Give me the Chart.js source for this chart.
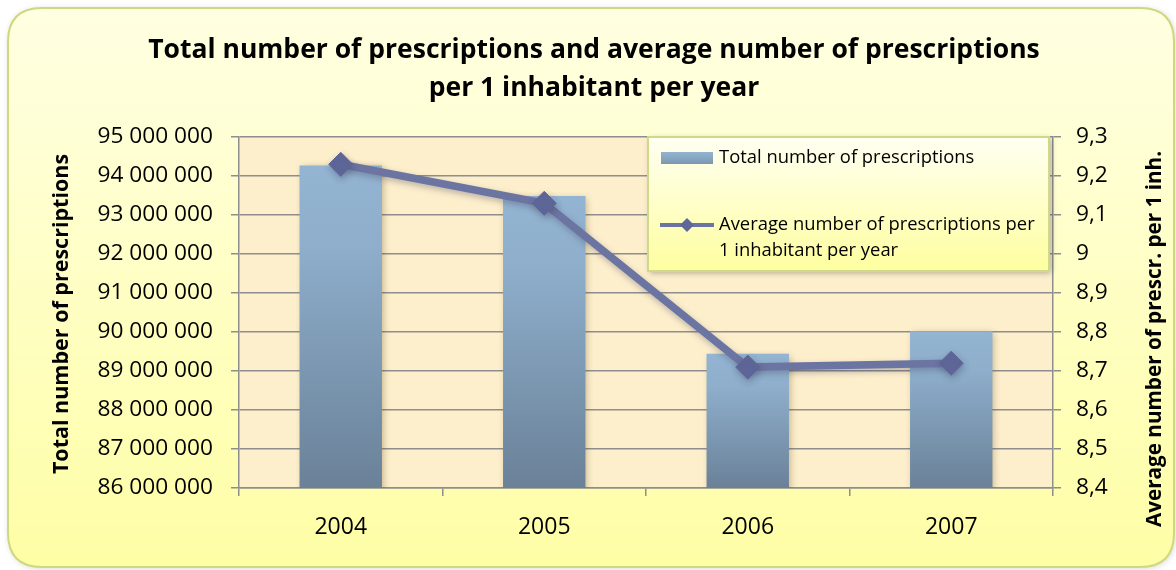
<!DOCTYPE html>
<html>
<head>
<meta charset="utf-8">
<script src="https://cdn.jsdelivr.net/npm/chart.js@4.4.1/dist/chart.umd.min.js"></script>
<style>
  html, body { margin: 0; padding: 0; background: #ffffff; }
  #wrap { position: relative; width: 1176px; height: 570px; }
  canvas { display: block; }
</style>
</head>
<body>
<div id="wrap"><canvas id="c" width="1176" height="570"></canvas></div>
<script>
// ---- Data ----
const years = ['2004', '2005', '2006', '2007'];
const totalPrescriptions = [94270000, 93490000, 89440000, 90020000];
const avgPerInhabitant = [9.23, 9.13, 8.71, 8.72];
const titleLines = ['Total number of prescriptions and average number of prescriptions', 'per 1 inhabitant per year'];
const seriesNames = ['Total number of prescriptions', 'Average number of prescriptions per 1 inhabitant per year'];
const legendLines2 = ['Average number of prescriptions per', '1 inhabitant per year'];
const leftAxisTitle = 'Total number of prescriptions';
const rightAxisTitle = 'Average number of prescr. per 1 inh.';

const FONT = '"Open Sans", "Noto Sans", sans-serif';
const LINE_COLOR = '#6c74a2';
const MARKER_COLOR = '#5f6799';
const GRID = '#8e8e8e';

function roundRect(ctx, x, y, w, h, r) {
  ctx.beginPath();
  ctx.moveTo(x + r, y);
  ctx.lineTo(x + w - r, y);
  ctx.quadraticCurveTo(x + w, y, x + w, y + r);
  ctx.lineTo(x + w, y + h - r);
  ctx.quadraticCurveTo(x + w, y + h, x + w - r, y + h);
  ctx.lineTo(x + r, y + h);
  ctx.quadraticCurveTo(x, y + h, x, y + h - r);
  ctx.lineTo(x, y + r);
  ctx.quadraticCurveTo(x, y, x + r, y);
  ctx.closePath();
}

function barGradient(context) {
  const chart = context.chart;
  if (!chart.chartArea || context.raw === undefined) return '#8cabc8';
  const ys = chart.scales.y;
  const top = ys.getPixelForValue(context.raw);
  const bottom = chart.chartArea.bottom;
  const g = chart.ctx.createLinearGradient(0, top, 0, bottom);
  g.addColorStop(0, '#93b4d2');
  g.addColorStop(0.25, '#8eaecb');
  g.addColorStop(1, '#6a8198');
  return g;
}

const decorPlugin = {
  id: 'decor',
  beforeDraw(chart) {
    const ctx = chart.ctx;
    const ca = chart.chartArea;
    ctx.save();
    ctx.shadowColor = 'rgba(0,0,0,0.18)';
    ctx.shadowBlur = 6;
    ctx.shadowOffsetX = 1;
    ctx.shadowOffsetY = 1;
    const g = ctx.createLinearGradient(0, 8, 0, 568);
    g.addColorStop(0, '#ffffe2');
    g.addColorStop(1, '#fefea6');
    roundRect(ctx, 8, 8, 1166, 559, 34);
    ctx.fillStyle = g;
    ctx.fill();
    ctx.shadowColor = 'transparent';
    ctx.lineWidth = 2;
    ctx.strokeStyle = '#cdd97a';
    ctx.stroke();
    ctx.fillStyle = '#fdefcc';
    ctx.fillRect(ca.left, ca.top, ca.right - ca.left, ca.bottom - ca.top);
    ctx.restore();

    ctx.save();
    ctx.fillStyle = '#000';
    ctx.font = 'bold 26.5px ' + FONT;
    ctx.textAlign = 'center';
    ctx.textBaseline = 'middle';
    ctx.fillText(titleLines[0], 594, 50);
    ctx.fillText(titleLines[1], 594, 88);
    ctx.font = 'bold 21.5px ' + FONT;
    ctx.translate(62, 314);
    ctx.rotate(-Math.PI / 2);
    ctx.fillText(leftAxisTitle, 0, 0);
    ctx.restore();
    ctx.save();
    ctx.fillStyle = '#000';
    ctx.font = 'bold 20.7px ' + FONT;
    ctx.textAlign = 'center';
    ctx.textBaseline = 'middle';
    ctx.translate(1155, 339);
    ctx.rotate(-Math.PI / 2);
    ctx.fillText(rightAxisTitle, 0, 0);
    ctx.restore();
  },
  beforeDatasetDraw(chart, args) {
    const ctx = chart.ctx;
    ctx.save();
    if (args.meta.type === 'bar') {
      ctx.shadowColor = 'rgba(90,70,20,0.35)';
      ctx.shadowBlur = 7;
      ctx.shadowOffsetX = 2;
      ctx.shadowOffsetY = 2;
    } else {
      ctx.shadowColor = 'rgba(60,60,90,0.35)';
      ctx.shadowBlur = 6;
      ctx.shadowOffsetX = 1;
      ctx.shadowOffsetY = 3;
    }
  },
  afterDatasetDraw(chart) {
    chart.ctx.restore();
  },
  afterDraw(chart) {
    const ctx = chart.ctx;
    ctx.save();
    ctx.shadowColor = 'rgba(0,0,0,0.3)';
    ctx.shadowBlur = 6;
    ctx.shadowOffsetX = 2;
    ctx.shadowOffsetY = 2;
    const lg = ctx.createLinearGradient(0, 137, 0, 271);
    lg.addColorStop(0, '#fffff2');
    lg.addColorStop(1, '#fefea0');
    ctx.fillStyle = lg;
    ctx.fillRect(648, 137, 401, 134);
    ctx.shadowColor = 'transparent';
    ctx.lineWidth = 2;
    ctx.strokeStyle = '#cfd98a';
    ctx.strokeRect(648, 137, 401, 134);
    const sg = ctx.createLinearGradient(0, 152, 0, 164);
    sg.addColorStop(0, '#93b4d2');
    sg.addColorStop(1, '#7d97b1');
    ctx.fillStyle = sg;
    ctx.fillRect(661, 152, 52, 12);
    ctx.fillStyle = '#000';
    ctx.font = '18.4px ' + FONT;
    ctx.textAlign = 'left';
    ctx.textBaseline = 'middle';
    ctx.fillText(seriesNames[0], 719, 158);
    ctx.strokeStyle = LINE_COLOR;
    ctx.lineWidth = 4;
    ctx.beginPath();
    ctx.moveTo(660, 225);
    ctx.lineTo(714, 225);
    ctx.stroke();
    ctx.fillStyle = MARKER_COLOR;
    ctx.beginPath();
    ctx.moveTo(687, 218);
    ctx.lineTo(694, 225);
    ctx.lineTo(687, 232);
    ctx.lineTo(680, 225);
    ctx.closePath();
    ctx.fill();
    ctx.fillStyle = '#000';
    ctx.fillText(legendLines2[0], 719, 225);
    ctx.fillText(legendLines2[1], 719, 251);
    ctx.restore();
  }
};

const fmtBig = v => String(Math.round(v)).replace(/\B(?=(\d{3})+(?!\d))/g, ' ');
const fmtSmall = v => String(Math.round(v * 10) / 10).replace('.', ',');

new Chart(document.getElementById('c'), {
  data: {
    labels: years,
    datasets: [
      {
        type: 'line',
        label: seriesNames[1],
        data: avgPerInhabitant,
        yAxisID: 'y2',
        borderColor: LINE_COLOR,
        borderWidth: 7.5,
        pointStyle: 'rectRot',
        pointRadius: 12,
        pointHoverRadius: 12,
        pointBackgroundColor: MARKER_COLOR,
        pointBorderColor: MARKER_COLOR,
        pointBorderWidth: 1,
        tension: 0,
        order: 0
      },
      {
        type: 'bar',
        label: seriesNames[0],
        data: totalPrescriptions,
        yAxisID: 'y',
        backgroundColor: barGradient,
        borderWidth: 0,
        barPercentage: 0.405,
        categoryPercentage: 1,
        order: 1
      }
    ]
  },
  options: {
    responsive: false,
    animation: false,
    layout: { padding: { top: 137, left: 0, right: 0, bottom: 0 } },
    plugins: {
      legend: { display: false },
      title: { display: false },
      tooltip: { enabled: false }
    },
    scales: {
      x: {
        offset: true,
        grid: { display: true, drawOnChartArea: false, offset: true, color: GRID, lineWidth: 1.5, tickLength: 8 },
        border: { color: GRID, width: 1.5 },
        ticks: { color: '#000', font: { family: FONT, size: 23 }, padding: 18 },
        afterFit(s) { s.height = 82; }
      },
      y: {
        position: 'left',
        min: 86000000,
        max: 95000000,
        grid: { color: GRID, lineWidth: 1.5, tickLength: 8 },
        border: { color: GRID, width: 1.5 },
        ticks: { stepSize: 1000000, color: '#000', font: { family: FONT, size: 22.7 }, padding: 18, callback: fmtBig },
        afterFit(s) { s.width = 239; }
      },
      y2: {
        position: 'right',
        min: 8.4,
        max: 9.3,
        grid: { drawOnChartArea: false, color: GRID, lineWidth: 1.5, tickLength: 8 },
        border: { color: GRID, width: 1.5 },
        ticks: { stepSize: 0.1, color: '#000', font: { family: FONT, size: 22.7 }, padding: 15, callback: fmtSmall },
        afterFit(s) { s.width = 123; }
      }
    }
  },
  plugins: [decorPlugin]
});
</script>
</body>
</html>
